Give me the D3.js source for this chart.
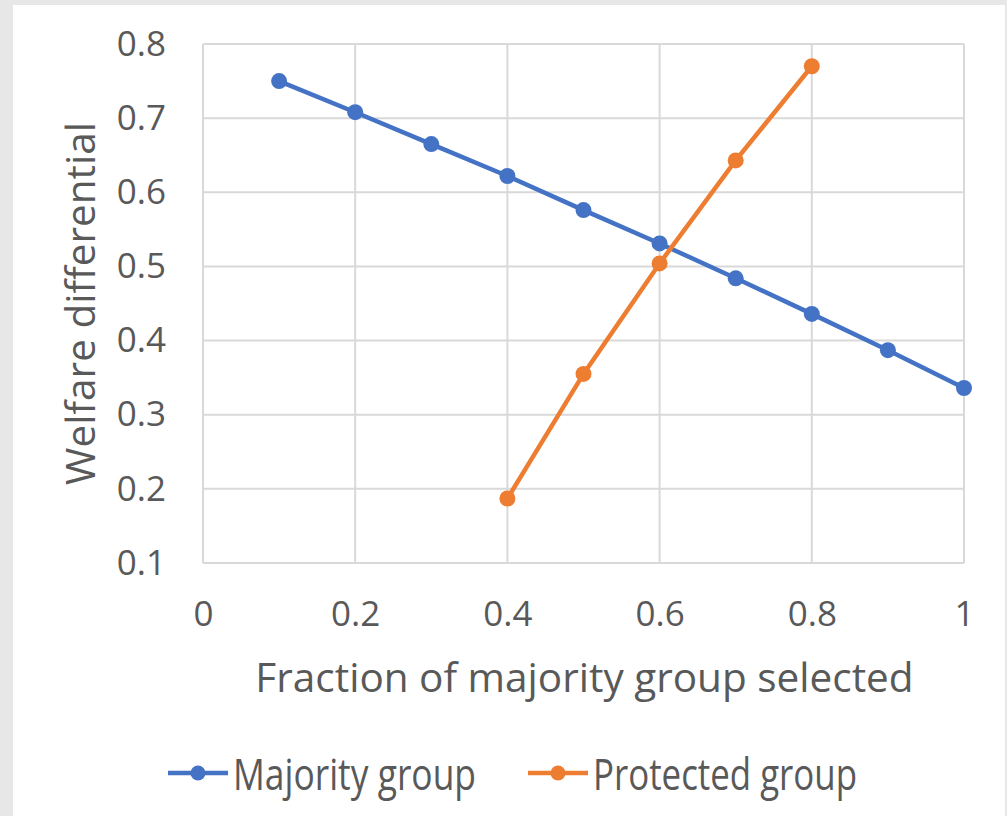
<!DOCTYPE html>
<html>
<head>
<meta charset="utf-8">
<script src="https://cdn.jsdelivr.net/npm/d3@7"></script>
<style>
  html, body { margin: 0; padding: 0; background: #e7e7e7; }
  svg { display: block; }
</style>
</head>
<body>
<svg id="chart" width="1007" height="816"></svg>
<script>
// Fraction of the majority group selected (x) and welfare differential (y)
const majorityX = [0.1, 0.2, 0.3, 0.4, 0.5, 0.6, 0.7, 0.8, 0.9, 1.0];
const majorityY = [0.750, 0.708, 0.665, 0.622, 0.576, 0.531, 0.484, 0.436, 0.387, 0.336];
const protectedX = [0.4, 0.5, 0.6, 0.7, 0.8];
const protectedY = [0.187, 0.355, 0.504, 0.643, 0.770];

const xTicks = [0, 0.2, 0.4, 0.6, 0.8, 1];
const yTicks = [0.1, 0.2, 0.3, 0.4, 0.5, 0.6, 0.7, 0.8];
const seriesNames = ["Majority group", "Protected group"];
const seriesColors = ["#4472c4", "#ed7d31"];

const svg = d3.select("#chart");
const textColor = "#595959";
const gridColor = "#d9d9d9";
const axisFont = "'Open Sans', 'Noto Sans', sans-serif";

// white chart panel
svg.append("rect")
  .attr("x", 13).attr("y", 5)
  .attr("width", 992).attr("height", 820)
  .attr("fill", "#ffffff");

const plot = { left: 203, top: 44, right: 964, bottom: 563 };

const x = d3.scaleLinear().domain([0, 1]).range([plot.left, plot.right]);
const y = d3.scaleLinear().domain([0.1, 0.8]).range([plot.bottom, plot.top]);

// gridlines
const grid = svg.append("g");
grid.selectAll("line.h").data(yTicks).join("line")
  .attr("x1", plot.left).attr("x2", plot.right)
  .attr("y1", d => y(d)).attr("y2", d => y(d))
  .attr("stroke", gridColor).attr("stroke-width", 2);
grid.selectAll("line.v").data(d3.range(0, 1.0001, 0.2)).join("line")
  .attr("y1", plot.top).attr("y2", plot.bottom)
  .attr("x1", d => x(d)).attr("x2", d => x(d))
  .attr("stroke", gridColor).attr("stroke-width", 2);

// axes (labels only, the lines come from the grid)
const xAxis = svg.append("g")
  .attr("transform", `translate(0,${plot.bottom})`)
  .call(d3.axisBottom(x).tickValues(xTicks).tickSize(0).tickPadding(38).tickFormat(d3.format("~g")));
const yAxis = svg.append("g")
  .attr("transform", `translate(${plot.left},0)`)
  .call(d3.axisLeft(y).tickValues(yTicks).tickSize(0).tickPadding(37).tickFormat(d3.format(".1f")));
[xAxis, yAxis].forEach(g => {
  g.select(".domain").remove();
  g.selectAll("text")
    .attr("fill", textColor)
    .style("font-family", axisFont)
    .style("font-size", "35px");
});

// axis titles
svg.append("text")
  .attr("x", (plot.left + plot.right) / 2 + 1)
  .attr("y", 692)
  .attr("text-anchor", "middle")
  .attr("fill", textColor)
  .style("font-family", axisFont)
  .style("font-size", "40.5px")
  .text("Fraction of majority group selected");

svg.append("text")
  .attr("transform", `translate(95,${(plot.top + plot.bottom) / 2}) rotate(-90)`)
  .attr("text-anchor", "middle")
  .attr("fill", textColor)
  .style("font-family", axisFont)
  .style("font-size", "40.5px")
  .text("Welfare differential");

// series
const series = [
  { name: seriesNames[0], color: seriesColors[0], xs: majorityX, ys: majorityY },
  { name: seriesNames[1], color: seriesColors[1], xs: protectedX, ys: protectedY }
];
const line = d3.line().x(d => x(d[0])).y(d => y(d[1]));

series.forEach(s => {
  const pts = s.xs.map((v, i) => [v, s.ys[i]]);
  const g = svg.append("g");
  g.append("path")
    .datum(pts)
    .attr("d", line)
    .attr("fill", "none")
    .attr("stroke", s.color)
    .attr("stroke-width", 4.5);
  g.selectAll("circle").data(pts).join("circle")
    .attr("cx", d => x(d[0]))
    .attr("cy", d => y(d[1]))
    .attr("r", 8)
    .attr("fill", s.color);
});

// legend: narrow, tall lettering
const legendY = 773;
const legendItems = [
  { x: 168, s: series[0], width: 243 },
  { x: 528, s: series[1], width: 264 }
];
legendItems.forEach(item => {
  const g = svg.append("g").attr("transform", `translate(${item.x},${legendY})`);
  g.append("line")
    .attr("x1", 0).attr("x2", 60)
    .attr("stroke", item.s.color).attr("stroke-width", 4.5);
  g.append("circle").attr("cx", 30).attr("r", 7.5).attr("fill", item.s.color);
  g.append("text")
    .attr("x", 65)
    .attr("y", 17)
    .attr("fill", textColor)
    .attr("textLength", item.width)
    .attr("lengthAdjust", "spacingAndGlyphs")
    .style("font-family", axisFont)
    .style("font-size", "43px")
    .text(item.s.name);
});
</script>
</body>
</html>
